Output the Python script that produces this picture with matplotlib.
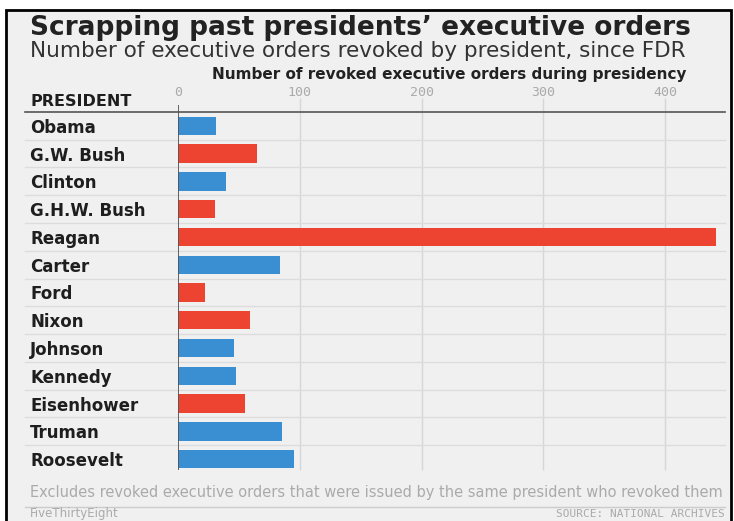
import matplotlib.pyplot as plt
from matplotlib.patches import Rectangle

# data
presidents = ['Obama', 'G.W. Bush', 'Clinton', 'G.H.W. Bush', 'Reagan', 'Carter', 'Ford',
              'Nixon', 'Johnson', 'Kennedy', 'Eisenhower', 'Truman', 'Roosevelt']
revoked = [31, 65, 39, 30, 442, 84, 22, 59, 46, 48, 55, 85, 95]
party = ['D', 'R', 'D', 'R', 'R', 'D', 'R', 'R', 'D', 'D', 'R', 'D', 'D']
xticks = [0, 100, 200, 300, 400]

BLUE = '#3a8fd2'
RED = '#ec4431'
W, H = 734, 521

def fx(px):
    return px / W

def fy(py):
    return 1 - py / H

fig = plt.figure(figsize=(W / 100, H / 100), dpi=100, facecolor='white')

# outer frame with grey background
fig.patches.append(Rectangle((fx(6), fy(525)), fx(731) - fx(6), fy(10) - fy(525),
                             transform=fig.transFigure, facecolor='#f0f0f0',
                             edgecolor='black', linewidth=2, zorder=-5))

ax = fig.add_axes([fx(178), fy(473), fx(725) - fx(178), (473 - 98) / H])
ax.set_facecolor('none')
for s in ax.spines.values():
    s.set_visible(False)

colors = [BLUE if p == 'D' else RED for p in party]
ax.barh(range(len(presidents)), revoked, height=0.66, color=colors, zorder=3)

ax.set_xlim(0, 449)
ax.set_ylim(12.5, -1.0)

# grid
ax.vlines(xticks[1:], -1.0, 12.4, color='#d6d6d6', lw=1, zorder=1)
ax.vlines(0, -0.75, 12.4, color='#555555', lw=1.3, zorder=4)

# row separators and header line
sep_left = (25 - 178) / 547
sep_right = (725 - 178) / 547
for k in range(1, len(presidents)):
    ax.axhline(k - 0.5, sep_left, sep_right, color='#dcdcdc', lw=1, clip_on=False, zorder=1)
ax.axhline(-0.5, sep_left, sep_right, color='#555555', lw=1.2, clip_on=False, zorder=2)

ax.set_xticks(xticks)
ax.set_xticklabels([str(t) for t in xticks], fontfamily='DejaVu Sans Mono', color='#aaaaaa', fontsize=9.5)
ax.tick_params(axis='x', top=True, labeltop=True, bottom=False, labelbottom=False, length=0, pad=-1)

ax.set_yticks(range(len(presidents)))
ax.set_yticklabels(presidents, fontweight='bold', fontsize=12, color='#1e1e1e')
ax.tick_params(axis='y', length=0, pad=(178 - 30) * 0.72)
for lab in ax.get_yticklabels():
    lab.set_ha('left')

# texts
fig.text(fx(30), fy(28), 'Scrapping past presidents\u2019 executive orders', fontsize=19,
         fontweight='bold', color='#222222', va='center')
fig.text(fx(30), fy(51), 'Number of executive orders revoked by president, since FDR', fontsize=15.5,
         color='#333333', va='center')
fig.text(fx(449), fy(75), 'Number of revoked executive orders during presidency', fontsize=11,
         fontweight='bold', color='#222222', ha='center', va='center')
fig.text(fx(30), fy(101), 'PRESIDENT', fontsize=11.5, fontweight='bold', color='#1e1e1e', va='center')
fig.text(fx(30), fy(492), 'Excludes revoked executive orders that were issued by the same president who revoked them',
         fontsize=10.5, color='#aaaaaa', va='center')
fig.add_artist(plt.Line2D([fx(25), fx(725)], [fy(507), fy(507)], color='#cccccc', lw=1))
fig.text(fx(30), fy(514), 'FiveThirtyEight', fontsize=8.5, color='#aaaaaa', va='center')
fig.text(fx(725), fy(514), 'SOURCE: NATIONAL ARCHIVES', fontsize=8, fontfamily='DejaVu Sans Mono',
         color='#aaaaaa', va='center', ha='right')

fig.savefig('out.png', dpi=100)
